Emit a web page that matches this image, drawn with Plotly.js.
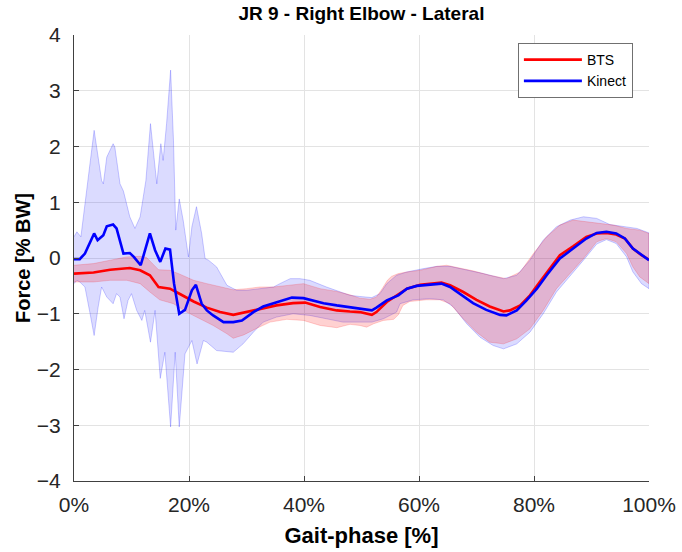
<!DOCTYPE html>
<html>
<head>
<meta charset="utf-8">
<script src="https://cdn.plot.ly/plotly-2.35.2.min.js"></script>
<style>
  html, body { margin: 0; padding: 0; background: #ffffff; }
  #chart { width: 682px; height: 552px; }
</style>
</head>
<body>
<div id="chart"></div>
<script>
// ---- Data (gait phase in %, force in % BW) ----
const seriesNames = ["BTS", "Kinect"];
const xTickVals = [0, 20, 40, 60, 80, 100];
const yTickVals = [-4, -3, -2, -1, 0, 1, 2, 3, 4];

// BTS mean
const btsMeanX = [0, 3.4, 6.3, 9.7, 11.5, 13.2, 14.7, 16.7, 18.5, 20.8, 23.1, 25.4, 27.7, 30.0, 32.3, 35.2, 38.1, 40.2, 42.8, 45.7, 48.0, 49.7, 51.8, 52.6, 54.4, 56.4, 57.9, 60.2, 61.9, 63.9, 65.4, 67.7, 70.0, 72.3, 74.7, 75.8, 77.6, 79.3, 81.0, 82.8, 84.5, 86.8, 89.1, 90.9, 92.6, 94.3, 95.8, 97.2, 98.7, 100];
const btsMeanY = [-0.28, -0.26, -0.21, -0.18, -0.22, -0.31, -0.52, -0.55, -0.65, -0.78, -0.89, -0.97, -1.02, -0.97, -0.91, -0.85, -0.81, -0.80, -0.88, -0.94, -0.96, -0.97, -1.02, -0.97, -0.79, -0.65, -0.55, -0.48, -0.46, -0.44, -0.49, -0.61, -0.75, -0.87, -0.96, -0.94, -0.85, -0.67, -0.43, -0.19, 0.05, 0.21, 0.38, 0.44, 0.45, 0.42, 0.35, 0.17, 0.05, -0.03];

// BTS band upper / lower
const btsUpperX = [0, 3.4, 6.3, 9.2, 11.5, 12.6, 14.7, 16.7, 18.4, 20.8, 23.1, 25.4, 27.7, 30.0, 32.3, 34.7, 37.6, 39.9, 42.8, 45.7, 48.0, 49.7, 51.5, 52.6, 53.6, 54.5, 55.2, 56.4, 57.9, 60.2, 63.1, 64.8, 66.6, 69.4, 72.3, 75.2, 77.6, 79.9, 82.2, 84.5, 86.8, 89.1, 91.4, 93.8, 96.1, 98.4, 100];
const btsUpperY = [-0.13, -0.10, -0.04, 0.02, 0.03, 0.01, -0.21, -0.22, -0.29, -0.40, -0.46, -0.52, -0.57, -0.55, -0.52, -0.52, -0.49, -0.46, -0.55, -0.60, -0.66, -0.72, -0.74, -0.70, -0.55, -0.40, -0.33, -0.28, -0.25, -0.22, -0.15, -0.13, -0.17, -0.23, -0.31, -0.37, -0.25, 0.08, 0.38, 0.59, 0.68, 0.65, 0.62, 0.59, 0.53, 0.50, 0.44];
const btsLowerX = [0, 3.4, 6.3, 9.2, 11.5, 13.2, 14.9, 17.3, 19.6, 21.9, 24.2, 26.6, 27.7, 29.5, 31.8, 34.1, 37.0, 39.9, 42.8, 45.7, 48.0, 49.7, 50.9, 52.1, 53.8, 55.6, 56.4, 57.2, 58.4, 61.3, 63.6, 65.4, 67.7, 70.0, 72.3, 74.7, 77.0, 79.3, 81.6, 83.9, 86.3, 88.6, 90.9, 92.6, 94.3, 96.1, 97.2, 98.4, 100];
const btsLowerY = [-0.43, -0.43, -0.40, -0.40, -0.46, -0.61, -0.75, -0.82, -0.97, -1.09, -1.21, -1.36, -1.44, -1.38, -1.26, -1.15, -1.10, -1.12, -1.21, -1.25, -1.19, -1.21, -1.24, -1.18, -1.12, -1.10, -1.02, -0.85, -0.78, -0.75, -0.75, -0.82, -1.09, -1.33, -1.51, -1.54, -1.45, -1.27, -0.94, -0.55, -0.28, -0.01, 0.29, 0.35, 0.29, 0.08, -0.16, -0.34, -0.46];

// Kinect mean
const kinMeanX = [0, 1.0, 1.9, 2.8, 3.5, 4.1, 5.1, 5.7, 6.8, 7.4, 8.6, 9.7, 10.4, 11.6, 12.5, 13.2, 14.1, 15.0, 15.9, 16.7, 17.4, 18.3, 19.3, 20.5, 21.2, 22.2, 23.1, 24.2, 26.0, 27.7, 29.2, 31.2, 32.9, 34.7, 36.4, 37.9, 39.9, 41.6, 43.4, 45.7, 48.0, 49.7, 51.8, 52.6, 54.4, 56.4, 57.9, 59.6, 61.9, 63.9, 65.4, 67.1, 69.4, 71.7, 74.1, 75.2, 77.0, 78.7, 80.5, 82.2, 84.5, 86.8, 89.1, 90.9, 92.6, 94.3, 95.8, 97.2, 98.7, 100];
const kinMeanY = [-0.02, -0.02, 0.08, 0.29, 0.44, 0.32, 0.41, 0.57, 0.60, 0.53, 0.08, 0.09, 0.02, -0.13, 0.20, 0.44, 0.14, -0.07, 0.17, 0.15, -0.46, -1.00, -0.93, -0.58, -0.48, -0.82, -0.94, -1.03, -1.15, -1.15, -1.12, -0.97, -0.87, -0.81, -0.76, -0.71, -0.72, -0.76, -0.81, -0.85, -0.88, -0.90, -0.94, -0.89, -0.76, -0.67, -0.55, -0.50, -0.48, -0.46, -0.52, -0.64, -0.81, -0.93, -1.02, -1.03, -0.94, -0.76, -0.55, -0.31, -0.01, 0.17, 0.35, 0.45, 0.47, 0.44, 0.35, 0.17, 0.05, -0.04];

// Kinect band upper / lower
const kinUpperX = [0, 0.5, 1.2, 3.5, 4.8, 5.1, 5.7, 6.8, 7.1, 8.0, 8.6, 9.7, 10.6, 11.5, 12.5, 13.3, 14.4, 15.1, 15.5, 16.1, 16.8, 17.3, 17.7, 18.3, 19.0, 19.9, 20.5, 21.3, 22.2, 22.8, 23.4, 24.8, 26.6, 28.3, 30.0, 32.3, 34.7, 35.8, 37.6, 39.3, 41.0, 43.9, 46.3, 48.0, 49.7, 50.9, 51.8, 53.2, 54.4, 56.1, 57.9, 60.8, 63.1, 65.4, 68.3, 71.2, 74.7, 77.0, 79.3, 81.6, 83.9, 86.3, 88.6, 90.9, 93.2, 95.5, 97.9, 100];
const kinUpperY = [0.38, 0.47, 0.38, 2.29, 1.39, 1.33, 1.81, 2.05, 1.99, 1.33, 1.20, 0.74, 0.53, 0.74, 1.39, 2.41, 1.33, 2.05, 1.75, 2.41, 3.37, 2.11, 0.50, 1.06, 0.67, 0.02, 0.56, 0.92, 0.44, -0.01, -0.04, -0.16, -0.49, -0.58, -0.58, -0.55, -0.52, -0.46, -0.37, -0.37, -0.40, -0.52, -0.61, -0.67, -0.69, -0.70, -0.71, -0.64, -0.46, -0.31, -0.25, -0.19, -0.15, -0.15, -0.21, -0.28, -0.37, -0.31, -0.04, 0.32, 0.56, 0.68, 0.74, 0.71, 0.60, 0.56, 0.53, 0.45];
const kinLowerX = [0, 0.5, 1.0, 1.9, 2.8, 3.5, 4.2, 4.8, 5.7, 6.8, 7.4, 8.0, 8.7, 9.4, 10.0, 10.9, 11.8, 12.3, 13.3, 14.1, 15.0, 15.8, 16.8, 17.6, 18.3, 19.3, 20.5, 21.4, 22.5, 23.1, 24.8, 27.7, 29.4, 31.2, 32.9, 35.2, 38.1, 41.0, 43.9, 46.8, 48.0, 49.7, 51.8, 53.8, 56.1, 56.7, 59.0, 61.9, 64.2, 66.0, 68.3, 70.6, 72.9, 74.7, 77.0, 79.3, 81.6, 83.9, 86.3, 88.6, 90.9, 92.6, 94.3, 96.1, 97.2, 98.7, 100];
const kinLowerY = [-0.46, -0.40, -0.43, -0.52, -1.00, -1.39, -0.88, -0.52, -0.70, -0.82, -0.64, -0.70, -1.09, -0.76, -0.64, -0.94, -1.12, -0.94, -1.51, -0.94, -2.16, -1.69, -3.03, -1.69, -3.03, -1.72, -1.48, -1.90, -1.48, -1.51, -1.66, -1.69, -1.54, -1.33, -1.15, -1.06, -1.00, -1.03, -1.09, -1.15, -1.15, -1.15, -1.15, -1.09, -0.97, -0.82, -0.75, -0.73, -0.75, -0.88, -1.18, -1.42, -1.57, -1.63, -1.54, -1.33, -1.00, -0.61, -0.31, -0.04, 0.25, 0.33, 0.26, 0.02, -0.25, -0.46, -0.55];

// ---- Build traces ----
function bandPolygon(ux, uy, lx, ly) {
  return {
    x: ux.concat(lx.slice().reverse()),
    y: uy.concat(ly.slice().reverse())
  };
}
const btsBand = bandPolygon(btsUpperX, btsUpperY, btsLowerX, btsLowerY);
const kinBand = bandPolygon(kinUpperX, kinUpperY, kinLowerX, kinLowerY);

const traces = [
  {
    x: kinBand.x, y: kinBand.y, type: 'scatter', mode: 'lines',
    fill: 'toself', fillcolor: 'rgba(0,0,255,0.14)',
    line: { color: 'rgba(0,0,255,0.26)', width: 0.8 },
    showlegend: false, hoverinfo: 'skip'
  },
  {
    x: btsBand.x, y: btsBand.y, type: 'scatter', mode: 'lines',
    fill: 'toself', fillcolor: 'rgba(255,0,0,0.18)',
    line: { color: 'rgba(255,0,0,0.22)', width: 0.8 },
    showlegend: false, hoverinfo: 'skip'
  },
  {
    x: btsMeanX, y: btsMeanY, type: 'scatter', mode: 'lines',
    name: seriesNames[0], line: { color: '#ff0000', width: 2.6 }
  },
  {
    x: kinMeanX, y: kinMeanY, type: 'scatter', mode: 'lines',
    name: seriesNames[1], line: { color: '#0000ff', width: 2.6 }
  }
];

const fontFam = 'Arial, "Liberation Sans", Helvetica, sans-serif';
const layout = {
  width: 682, height: 552,
  margin: { l: 74, r: 33, t: 35, b: 71 },
  paper_bgcolor: '#ffffff', plot_bgcolor: '#ffffff',
  font: { family: fontFam, color: '#262626' },
  title: {
    text: '<b>JR 9 - Right Elbow - Lateral</b>',
    font: { family: fontFam, size: 19, color: '#000000' },
    x: 0.53, xanchor: 'center', y: 0.975, yanchor: 'middle'
  },
  xaxis: {
    range: [0, 100],
    tickvals: xTickVals,
    ticktext: xTickVals.map(v => v + '%'),
    ticks: 'inside', ticklen: 5, tickcolor: '#404040',
    showline: true, linecolor: '#404040', linewidth: 1,
    showgrid: true, gridcolor: '#e3e3e3', gridwidth: 1,
    zeroline: false,
    tickfont: { family: fontFam, size: 21, color: '#262626' },
    ticklabelstandoff: 5,
    title: { text: '<b>Gait-phase [%]</b>', font: { family: fontFam, size: 22, color: '#000000' }, standoff: 12 }
  },
  yaxis: {
    range: [-4, 4],
    tickvals: yTickVals,
    ticks: 'inside', ticklen: 5, tickcolor: '#404040',
    showline: true, linecolor: '#404040', linewidth: 1,
    showgrid: true, gridcolor: '#e3e3e3', gridwidth: 1,
    zeroline: false,
    tickfont: { family: fontFam, size: 21, color: '#262626' },
    ticklabelstandoff: 8,
    title: { text: '<b>Force [% BW]</b>', font: { family: fontFam, size: 20, color: '#000000' }, standoff: 0 }
  },
  legend: {
    x: 0.972, xanchor: 'right', y: 0.982, yanchor: 'top',
    bgcolor: '#ffffff', bordercolor: '#707070', borderwidth: 1,
    font: { family: fontFam, size: 14, color: '#000000' },
    itemwidth: 58,
    tracegroupgap: 0
  },
  showlegend: true
};

Plotly.newPlot('chart', traces, layout, { displayModeBar: false, staticPlot: true });
</script>
</body>
</html>
